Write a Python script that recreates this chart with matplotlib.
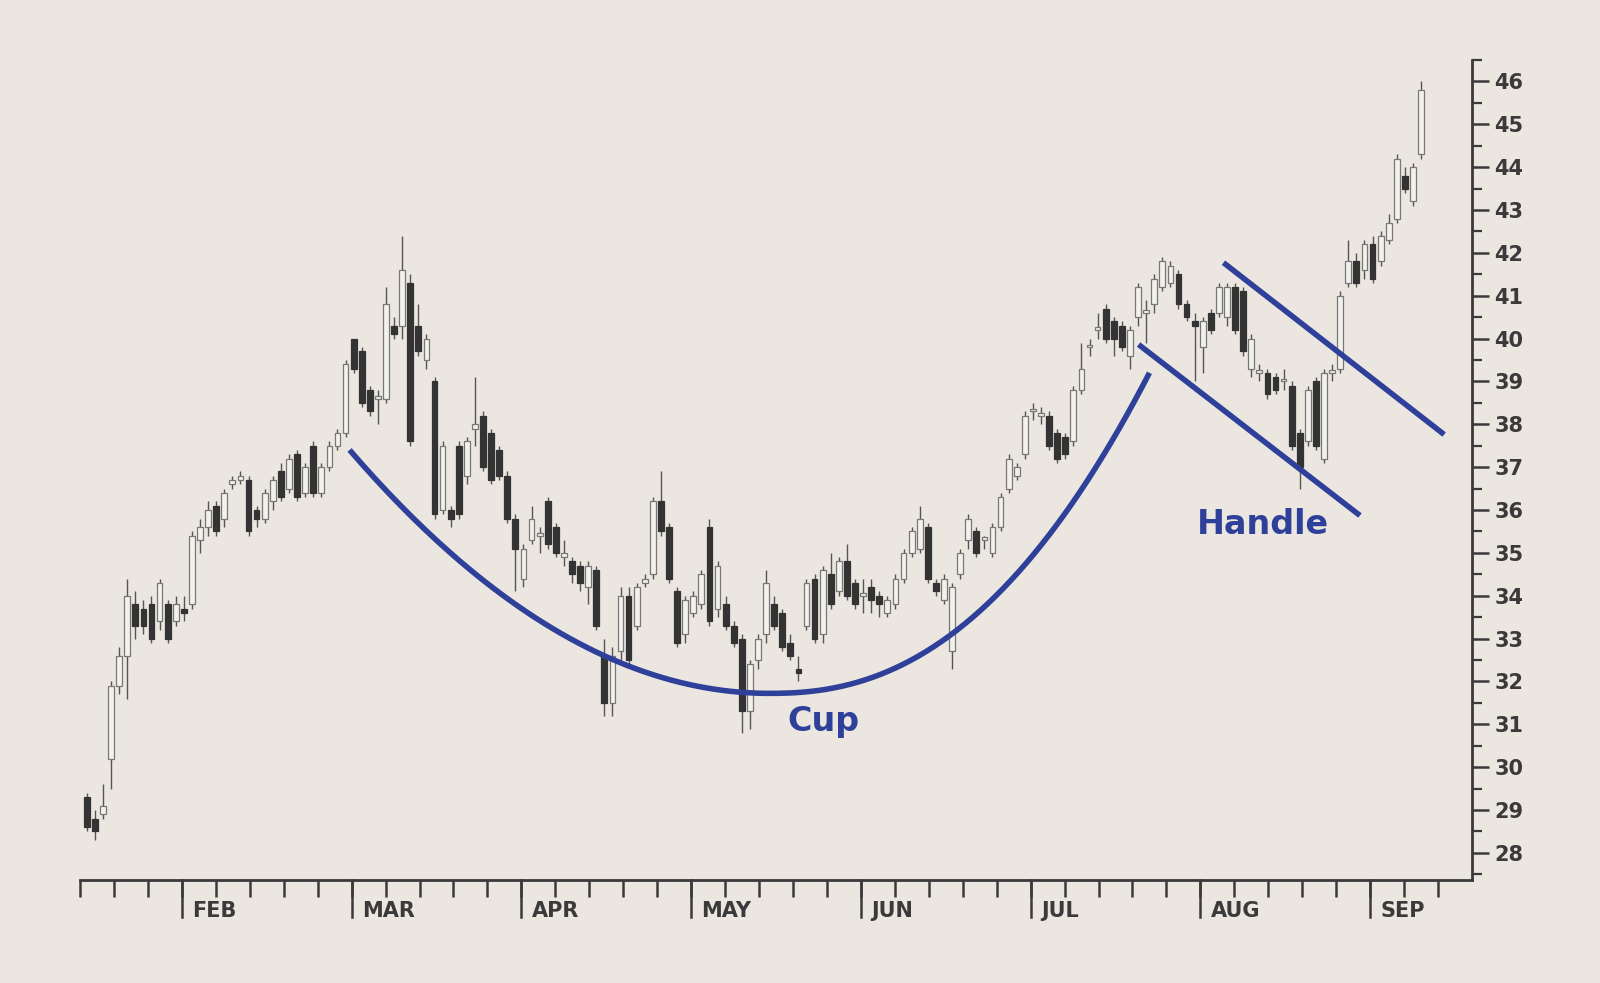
"""
Cup and handle candlestick chart.
"""
import numpy as np
import matplotlib

matplotlib.use("Agg")
import matplotlib.pyplot as plt

# daily candles (Jan .. Sep)
OPEN = [29.3, 28.8, 28.9, 30.2, 31.9, 32.6, 33.8, 33.7, 33.8, 33.4, 33.8, 33.4, 33.7, 33.8, 35.3, 35.6, 36.1, 35.8, 36.6, 36.7,
        36.7, 36.0, 35.8, 36.2, 36.9, 36.5, 37.3, 36.4, 37.5, 36.4, 37.0, 37.5, 37.8, 40.0, 39.7, 38.8, 38.6, 38.6, 40.3, 40.3,
        41.3, 40.3, 39.5, 39.0, 36.0, 36.0, 37.5, 36.8, 37.9, 38.2, 37.8, 37.4, 36.8, 35.8, 34.4, 35.3, 35.4, 36.2, 35.6, 34.9,
        34.8, 34.7, 34.2, 34.6, 32.6, 31.5, 32.7, 34.0, 33.3, 34.3, 34.5, 36.2, 35.6, 34.1, 33.1, 33.6, 33.8, 35.6, 33.7, 33.8,
        33.3, 33.0, 31.3, 32.5, 33.1, 33.8, 33.6, 32.9, 32.3, 33.3, 34.4, 33.1, 34.5, 34.1, 34.8, 34.3, 34.0, 34.2, 34.0, 33.6,
        33.8, 34.4, 35.0, 35.1, 35.6, 34.3, 33.9, 32.7, 34.5, 35.3, 35.5, 35.3, 35.0, 35.6, 36.5, 36.8, 37.3, 38.3, 38.2, 38.2,
        37.8, 37.7, 37.6, 38.8, 39.8, 40.2, 40.7, 40.4, 40.3, 39.6, 40.5, 40.6, 40.8, 41.2, 41.3, 41.5, 40.8, 40.4, 39.8, 40.6,
        40.6, 40.5, 41.2, 41.1, 39.3, 39.2, 39.2, 39.1, 39.0, 38.9, 37.8, 37.6, 39.0, 37.2, 39.2, 39.3, 41.3, 41.8, 41.6, 42.2,
        41.8, 42.3, 42.8, 43.8, 43.2, 44.3]
HIGH = [29.4, 29.0, 29.6, 32.0, 32.8, 34.4, 34.1, 33.9, 34.0, 34.4, 33.9, 34.0, 34.0, 35.5, 35.8, 36.2, 36.2, 36.5, 36.8, 36.9,
        36.8, 36.1, 36.5, 36.8, 37.1, 37.3, 37.4, 37.1, 37.6, 37.1, 37.6, 37.9, 39.5, 40.0, 39.8, 38.9, 38.8, 41.2, 40.5, 42.4,
        41.5, 40.8, 40.1, 39.1, 37.6, 36.1, 37.6, 37.7, 39.1, 38.3, 37.9, 37.5, 36.9, 35.9, 35.2, 36.1, 35.6, 36.3, 35.7, 35.3,
        34.9, 34.8, 34.8, 34.7, 33.0, 32.8, 34.2, 34.2, 34.3, 34.5, 36.3, 36.9, 35.7, 34.2, 34.0, 34.1, 34.6, 35.8, 34.8, 34.0,
        33.4, 33.1, 32.5, 33.1, 34.6, 34.0, 33.7, 33.1, 32.6, 34.4, 34.5, 34.7, 35.0, 34.9, 35.2, 34.4, 34.4, 34.4, 34.1, 34.0,
        34.5, 35.1, 35.6, 36.1, 35.7, 34.4, 34.5, 34.3, 35.1, 35.9, 35.6, 35.4, 35.7, 36.4, 37.3, 37.1, 38.3, 38.5, 38.4, 38.3,
        37.9, 37.8, 38.9, 39.9, 40.0, 40.6, 40.8, 40.5, 40.4, 40.3, 41.3, 40.9, 41.5, 41.9, 41.8, 41.6, 40.9, 40.6, 40.5, 40.7,
        41.3, 41.3, 41.3, 41.2, 40.1, 39.4, 39.3, 39.2, 39.3, 39.0, 37.9, 38.9, 39.1, 39.3, 39.4, 41.1, 42.3, 42.0, 42.3, 42.4,
        42.5, 42.9, 44.3, 44.0, 44.1, 46.0]
LOW = [28.5, 28.3, 28.8, 29.5, 31.7, 31.6, 33.0, 33.1, 32.9, 33.2, 32.9, 33.3, 33.4, 33.7, 35.0, 35.4, 35.4, 35.6, 36.5, 36.6,
       35.4, 35.6, 35.7, 36.0, 36.2, 36.4, 36.2, 36.3, 36.3, 36.3, 36.9, 37.4, 37.7, 39.2, 38.4, 38.2, 38.0, 38.5, 40.0, 40.0,
       37.5, 39.6, 39.3, 35.8, 35.9, 35.6, 35.8, 36.6, 37.5, 36.9, 36.6, 36.7, 35.7, 34.1, 34.2, 35.2, 35.0, 35.1, 34.9, 34.7,
       34.3, 34.1, 33.8, 33.2, 31.2, 31.2, 32.5, 32.4, 33.2, 34.2, 34.4, 35.4, 34.3, 32.8, 32.9, 33.5, 33.7, 33.3, 33.5, 33.2,
       32.8, 30.8, 30.9, 32.3, 32.9, 33.2, 32.7, 32.5, 32.0, 33.2, 32.9, 32.9, 33.7, 34.0, 33.9, 33.7, 33.6, 33.6, 33.5, 33.5,
       33.7, 34.3, 34.9, 35.0, 34.3, 34.0, 33.8, 32.3, 34.4, 35.1, 34.9, 35.1, 34.9, 35.5, 36.4, 36.7, 37.2, 38.1, 38.0, 37.4,
       37.1, 37.2, 37.5, 38.7, 39.6, 40.0, 39.9, 39.6, 39.7, 39.3, 40.3, 39.9, 40.6, 41.1, 41.2, 40.7, 40.4, 39.0, 39.2, 40.1,
       40.5, 40.3, 40.1, 39.6, 39.1, 39.0, 38.6, 38.7, 38.8, 37.4, 36.5, 37.5, 37.4, 37.1, 39.0, 39.2, 41.2, 41.2, 41.4, 41.3,
       41.7, 42.2, 42.7, 43.4, 43.1, 44.2]
CLOSE = [28.6, 28.5, 29.1, 31.9, 32.6, 34.0, 33.3, 33.3, 33.0, 34.3, 33.0, 33.8, 33.6, 35.4, 35.6, 36.0, 35.5, 36.4, 36.7, 36.8,
         35.5, 35.8, 36.4, 36.7, 36.3, 37.2, 36.3, 37.0, 36.4, 37.0, 37.5, 37.8, 39.4, 39.3, 38.5, 38.3, 38.6, 40.8, 40.1, 41.6,
         37.6, 39.7, 40.0, 35.9, 37.5, 35.8, 35.9, 37.6, 38.0, 37.0, 36.7, 36.8, 35.8, 35.1, 35.1, 35.8, 35.4, 35.2, 35.0, 35.0,
         34.5, 34.3, 34.7, 33.3, 31.5, 32.6, 34.0, 32.5, 34.2, 34.4, 36.2, 35.5, 34.4, 32.9, 33.9, 34.0, 34.5, 33.4, 34.7, 33.3,
         32.9, 31.3, 32.4, 33.0, 34.3, 33.3, 32.8, 32.6, 32.2, 34.3, 33.0, 34.6, 33.8, 34.8, 34.0, 33.8, 34.0, 33.9, 33.8, 33.9,
         34.4, 35.0, 35.5, 35.8, 34.4, 34.1, 34.4, 34.2, 35.0, 35.8, 35.0, 35.3, 35.6, 36.3, 37.2, 37.0, 38.2, 38.3, 38.2, 37.5,
         37.2, 37.3, 38.8, 39.3, 39.8, 40.2, 40.0, 40.0, 39.8, 40.2, 41.2, 40.6, 41.4, 41.8, 41.7, 40.8, 40.5, 40.3, 40.4, 40.2,
         41.2, 41.2, 40.2, 39.7, 40.0, 39.2, 38.7, 38.8, 39.0, 37.5, 37.0, 38.8, 37.5, 39.2, 39.2, 41.0, 41.8, 41.3, 42.2, 41.4,
         42.4, 42.7, 44.2, 43.5, 44.0, 45.8]

MONTHS = ["FEB", "MAR", "APR", "MAY", "JUN", "JUL", "AUG", "SEP"]
MONTH_POS = [3, 8, 13, 18, 23, 28, 33, 38]   # week index of each month start
FIRST_DAY, LAST_DAY = 0.2, 39.5               # week position of first/last candle

CUP_LEFT = (7.94, 37.4)
CUP_BOTTOM = (20.3, 31.72)
CUP_RIGHT = (31.5, 39.2)
HANDLE_LOW = [(31.18, 39.86), (37.7, 35.87)]
HANDLE_HIGH = [(33.68, 41.77), (40.18, 37.76)]

BG = "#ebe7e0"
BLUE = "#2f409a"
INK = "#3a3a3a"

fig = plt.figure(figsize=(16, 9.83), dpi=100, facecolor=BG)
ax = fig.add_axes([0.05, 0.105, 0.87, 0.834], facecolor=BG)

n = len(OPEN)
xs = np.linspace(FIRST_DAY, LAST_DAY, n)
w = 0.17
for x, o, h, l, c in zip(xs, OPEN, HIGH, LOW, CLOSE):
    up = c >= o
    ax.vlines(x, l, h, color="#555555", lw=1.0, zorder=2)
    ax.bar(x, max(abs(c - o), 0.06), bottom=min(o, c), width=w,
           color="#f3f1ec" if up else "#333333",
           edgecolor="#777777" if up else "#333333", lw=0.9, zorder=3)

# cup: two half-parabolas meeting at the bottom
xl = np.linspace(CUP_LEFT[0], CUP_BOTTOM[0], 100)
al = (CUP_LEFT[1] - CUP_BOTTOM[1]) / (CUP_BOTTOM[0] - CUP_LEFT[0]) ** 2
xr = np.linspace(CUP_BOTTOM[0], CUP_RIGHT[0], 100)
ar = (CUP_RIGHT[1] - CUP_BOTTOM[1]) / (CUP_RIGHT[0] - CUP_BOTTOM[0]) ** 2.3
cx = np.concatenate([xl, xr])
cy = np.concatenate([CUP_BOTTOM[1] + al * (xl - CUP_BOTTOM[0]) ** 2,
                     CUP_BOTTOM[1] + ar * (xr - CUP_BOTTOM[0]) ** 2.3])
ax.plot(cx, cy, color=BLUE, lw=4, solid_capstyle="butt", zorder=4)

for seg in (HANDLE_LOW, HANDLE_HIGH):
    ax.plot([seg[0][0], seg[1][0]], [seg[0][1], seg[1][1]], color=BLUE, lw=4,
            solid_capstyle="butt", zorder=4)

ax.text(21.9, 31.06, "Cup", color=BLUE, fontsize=24, fontweight="semibold",
        ha="center", va="center")
ax.text(34.85, 35.66, "Handle", color=BLUE, fontsize=24, fontweight="semibold",
        ha="center", va="center")

ax.set_xlim(0, 41)
ax.set_ylim(27.37, 46.5)
for s in ("top", "left"):
    ax.spines[s].set_visible(False)
ax.spines["bottom"].set_color(INK)
ax.spines["right"].set_color(INK)
ax.spines["bottom"].set_linewidth(2)
ax.spines["right"].set_linewidth(2)

ax.yaxis.tick_right()
ax.set_yticks(np.arange(28, 47))
ax.set_yticks(np.arange(27.5, 46.6, 1.0), minor=True)
ax.tick_params(axis="y", which="major", direction="out", length=12, width=1.8,
               color=INK, labelsize=15, labelcolor=INK, pad=4)
ax.tick_params(axis="y", which="minor", direction="out", length=7, width=1.6,
               color=INK)
for lab in ax.get_yticklabels():
    lab.set_fontweight("semibold")

ax.set_xticks(np.arange(0, 41))
ax.set_xticklabels([])
ax.tick_params(axis="x", direction="out", length=12, width=1.8, color=INK)
for p, m in zip(MONTH_POS, MONTHS):
    ax.plot([p, p], [0, -0.045], transform=ax.get_xaxis_transform(), color=INK,
            lw=1.8, clip_on=False)
    ax.text(p + 0.3, -0.038, m, transform=ax.get_xaxis_transform(),
            ha="left", va="center", fontsize=15, color=INK, fontweight="semibold")

fig.savefig("out.png", dpi=100, facecolor=BG)
